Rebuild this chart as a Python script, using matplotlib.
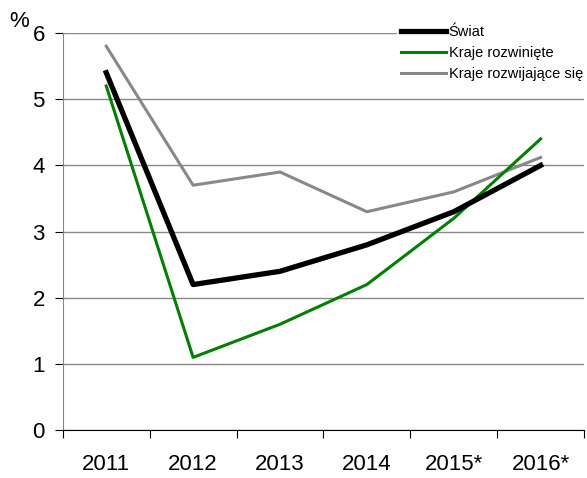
import matplotlib
matplotlib.use("Agg")
from matplotlib import pyplot as plt
import numpy as np

# data
years = ['2011', '2012', '2013', '2014', '2015*', '2016*']
swiat = [5.4, 2.2, 2.4, 2.8, 3.3, 4.0]
rozwiniete = [5.2, 1.1, 1.6, 2.2, 3.2, 4.4]
rozwijajace = [5.8, 3.7, 3.9, 3.3, 3.6, 4.12]

plt.rcParams['font.family'] = ['Liberation Sans', 'DejaVu Sans']

fig = plt.figure(figsize=(5.87, 4.78), dpi=100)
ax = fig.add_axes([0.107, 0.100, 0.888, 0.831])

x = np.arange(len(years))
ax.plot(x, swiat, color='black', linewidth=3.8, label='Świat', zorder=4)
ax.plot(x, rozwiniete, color='#008000', linewidth=2.2, label='Kraje rozwinięte', zorder=3)
ax.plot(x, rozwijajace, color='#888888', linewidth=2.2, label='Kraje rozwijające się', zorder=2)

ax.set_xlim(-0.5, len(years) - 0.5)
ax.set_ylim(0, 6)
ax.set_yticks(range(0, 7))
ax.yaxis.grid(True, color='#888888', linewidth=1)
ax.set_axisbelow(True)

ax.set_xticks(np.arange(-0.5, len(years), 1.0))
ax.set_xticklabels([])
ax.set_xticks(x, minor=True)
ax.set_xticklabels(years, minor=True)
ax.tick_params(axis='x', which='major', length=6, color='black', direction='out')
ax.tick_params(axis='x', which='minor', length=0, labelsize=16, pad=17)
ax.tick_params(axis='y', length=6, color='black', labelsize=16, pad=7)

ax.spines['top'].set_visible(False)
ax.spines['right'].set_visible(False)
ax.spines['left'].set_color('#888888')
ax.spines['bottom'].set_color('black')

fig.text(0.015, 0.955, '%', fontsize=16, va='center')

leg = ax.legend(loc='upper right', bbox_to_anchor=(1.02, 1.05), fontsize=10.5,
                frameon=True, framealpha=1, edgecolor='white', fancybox=False,
                handlelength=3.1, handletextpad=0.15, labelspacing=0.5, borderpad=0.3)

fig.savefig('out.png', dpi=100)
